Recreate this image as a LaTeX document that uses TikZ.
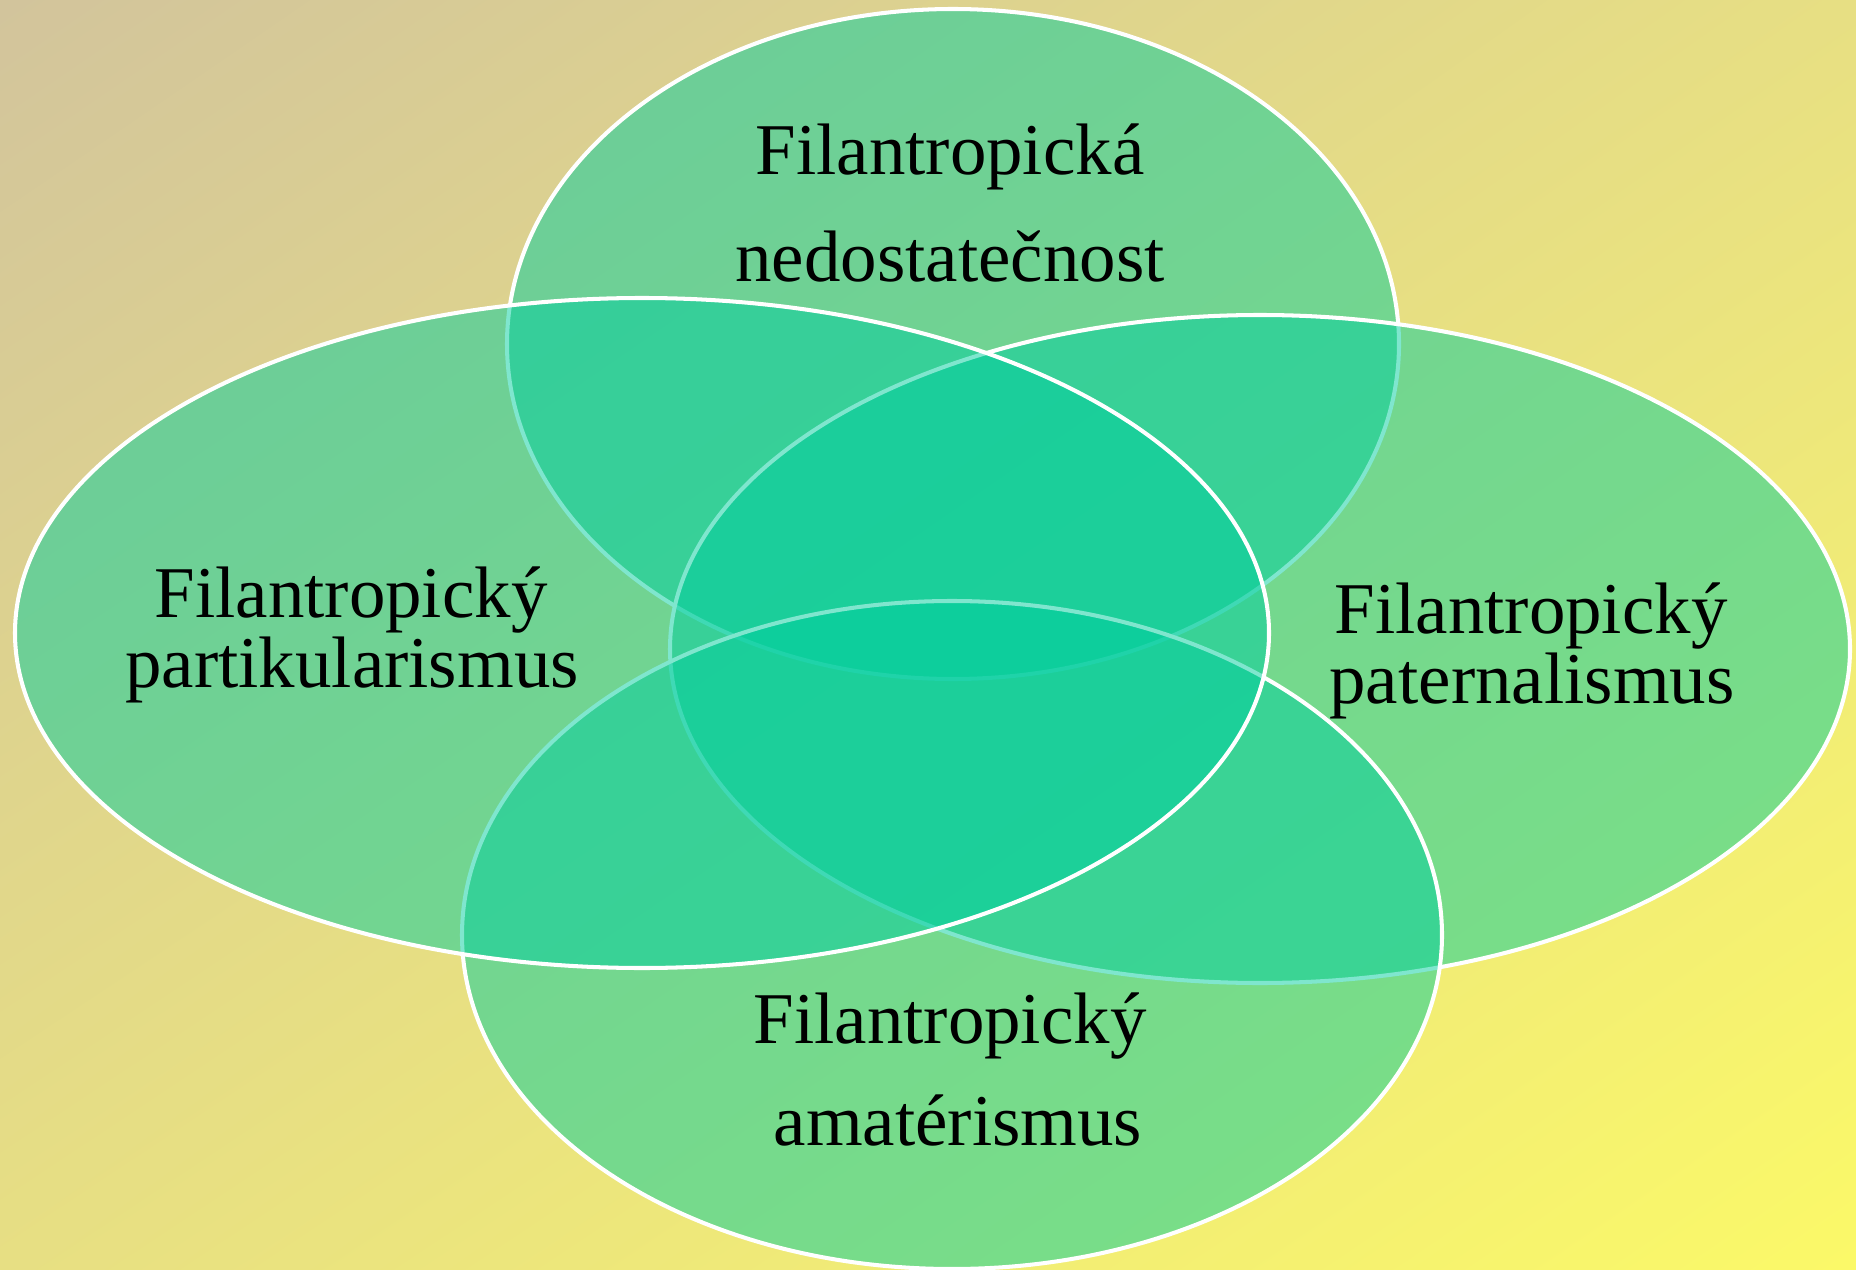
\documentclass[tikz,border=0pt]{standalone}
\usepackage{fontspec}
\setmainfont{Liberation Serif}
\usetikzlibrary{shadings}
\definecolor{bgA}{RGB}{210,196,156}
\definecolor{bgB}{RGB}{251,249,104}
\definecolor{bgM}{RGB}{231,223,131}
\definecolor{venn}{RGB}{0,206,158}
\begin{document}
\begin{tikzpicture}[x=0.02cm,y=-0.02cm,
  vennshape/.style={fill=venn, fill opacity=0.5, draw=white, line width=2.3pt},
  lbl/.style={font=\fontsize{41.5}{50}\selectfont, text=black, anchor=base, inner sep=0pt}]
  \useasboundingbox (0,0) rectangle (1856,1270);
  \shade[upper left=bgA, lower right=bgB, upper right=bgM, lower left=bgM] (0,0) rectangle (1856,1270);
  % ellipses: top, right, bottom, left
  \draw[vennshape] (953,344) ellipse [x radius=446, y radius=335];
  \draw[vennshape] (1260,649) ellipse [x radius=590, y radius=334];
  \draw[vennshape] (952,935) ellipse [x radius=490, y radius=334];
  \draw[vennshape] (642,633) ellipse [x radius=627, y radius=335];
  % labels
  \node[lbl] (top1) at (950,175) {Filantropická};
  \node[lbl] (top2) at (950,282) {nedostatečnost};
  \node[lbl] (left1) at (351,617) {Filantropický};
  \node[lbl] (left2) at (352,687) {partikularismus};
  \node[lbl] (right1) at (1531,633) {Filantropický};
  \node[lbl] (right2) at (1532,703) {paternalismus};
  \node[lbl] (bot1) at (950,1043) {Filantropický};
  \node[lbl] (bot2) at (958,1145) {amatérismus};
\end{tikzpicture}
\end{document}
